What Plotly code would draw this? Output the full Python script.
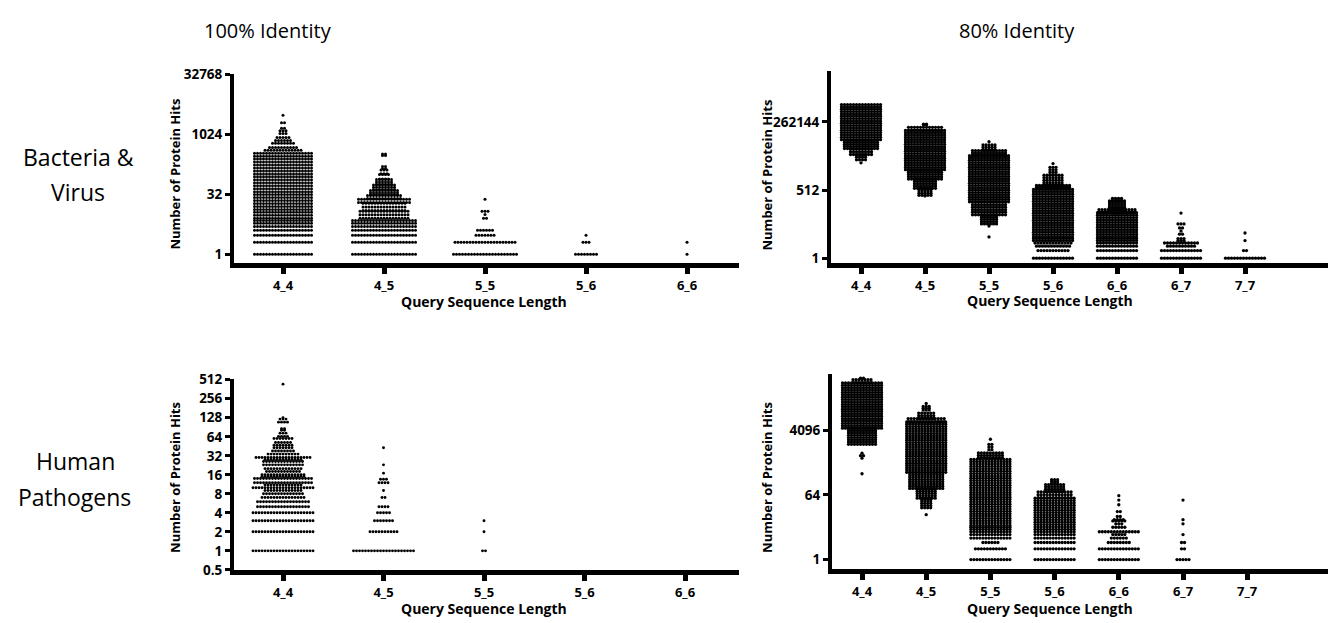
import numpy as np
import plotly.graph_objects as go

# target screenshot size and the default 8px page margin of the html body
SCREEN_W, SCREEN_H = 1336, 623
OFF = 8
W, H = SCREEN_W - OFF, SCREEN_H - OFF

# ---------------- data ----------------
categories_100 = ["4_4", "4_5", "5_5", "5_6", "6_6"]
categories_80 = ["4_4", "4_5", "5_5", "5_6", "6_6", "6_7", "7_7"]

# Each entry: [lowest hits, highest hits, dots per row]; low == high -> a single row
bacteria_100 = {
    "4_4": [[1, 1, 20], [2, 2, 20], [3, 3, 20], [4, 4, 20], [5, 5, 20], [6, 6, 20], [7, 7, 20],
            [8, 345, 20], [410, 410, 13], [480, 480, 10], [610, 610, 8], [720, 720, 6],
            [850, 850, 5], [1070, 1070, 3], [1260, 1260, 3], [1460, 1460, 2], [2000, 2000, 2],
            [3100, 3100, 1]],
    "4_5": [[1, 1, 22], [2, 2, 22], [3, 3, 22], [4, 4, 22], [5, 5, 22], [6, 6, 22], [7, 7, 22],
            [8, 12, 17], [12.5, 19, 15], [20, 24, 18], [25, 30, 12], [31, 40, 10], [42, 55, 8],
            [57, 75, 6], [78, 100, 4], [105, 130, 3], [140, 160, 2], [300, 300, 2], [330, 330, 2]],
    "5_5": [[1, 1, 22], [2, 2, 21], [3, 3, 7], [4, 4, 6], [8, 8, 2], [10, 10, 1], [12, 12, 3],
            [24, 24, 1]],
    "5_6": [[1, 1, 8], [2, 2, 3], [3, 3, 1]],
    "6_6": [[1, 1, 1], [2, 2, 1]],
}

bacteria_80 = {
    "4_4": [[6200, 6200, 1], [8200, 13000, 4], [13300, 22000, 8], [23000, 50000, 12],
            [52000, 1290000, 14]],
    "4_5": [[300, 300, 1], [315, 580, 5], [600, 1380, 8], [1400, 3250, 12], [3300, 120000, 14],
            [122000, 160000, 12], [200000, 213000, 2]],
    "5_5": [[7, 7, 1], [19, 19, 1], [23, 52, 6], [53, 170, 12], [175, 12000, 14],
            [12500, 19000, 12], [20000, 32000, 5], [43000, 43000, 1]],
    "5_6": [[1, 1, 14], [2, 2, 11], [3, 3, 12], [4, 4, 13], [5, 5, 14], [6, 6, 14],
            [7, 540, 14], [560, 780, 12], [800, 2000, 7], [2100, 4100, 3], [5800, 5800, 1]],
    "6_6": [[1, 1, 14], [2, 2, 14], [3, 3, 14], [4, 4, 14], [5, 5, 14], [6, 6, 14],
            [7, 64, 14], [66, 85, 13], [88, 190, 6], [200, 240, 4]],
    "6_7": [[1, 1, 14], [2, 2, 14], [3, 3, 10], [4, 4, 12], [5, 5, 3], [6, 6, 3], [9, 9, 2],
            [12, 12, 1], [16, 16, 2], [23, 23, 3], [62, 62, 1]],
    "7_7": [[1, 1, 14], [2, 2, 2], [5, 5, 1], [10, 10, 1]],
}

pathogens_100 = {
    "4_4": [[1, 1, 21], [2, 2, 21], [3, 3, 21], [4, 4, 21], [5, 5, 18], [6, 6, 18], [7, 7, 15],
            [8, 8, 14], [9, 9, 13], [10, 10, 21], [11, 11, 13], [12, 12, 20], [14, 14, 20],
            [15, 15, 15], [16, 16, 15], [18, 18, 12], [20, 20, 13], [23, 23, 14], [26, 26, 14],
            [28, 28, 13], [30, 30, 19], [34, 34, 11], [38, 38, 8], [43, 43, 7], [47, 47, 7],
            [52, 52, 6], [60, 60, 7], [65, 65, 4], [73, 73, 3], [81, 81, 2], [86, 86, 2],
            [109, 109, 4], [122, 122, 3], [128, 128, 1], [436, 436, 1]],
    "4_5": [[1, 1, 21], [2, 2, 10], [3, 3, 7], [4, 4, 5], [5, 5, 4], [7, 7, 2], [9, 9, 1],
            [12, 12, 4], [13.6, 13.6, 3], [17, 17, 1], [23, 23, 1], [43, 43, 1]],
    "5_5": [[1, 1, 2], [2, 2, 1], [3, 3, 1]],
    "5_6": [],
    "6_6": [],
}

pathogens_80 = {
    "4_4": [[250, 250, 1], [680, 680, 1], [800, 800, 2], [940, 940, 1], [1660, 4600, 10],
            [4700, 86000, 14], [88000, 106000, 7], [118000, 118000, 2]],
    "4_5": [[18, 18, 1], [28, 50, 4], [52, 95, 7], [97, 270, 12], [275, 7000, 14],
            [7100, 8700, 13], [8800, 12400, 6], [15000, 19000, 3], [23000, 23000, 1]],
    "5_5": [[1, 1, 14], [2, 2, 11], [3, 3, 6], [4, 4, 14], [5, 5, 14], [6, 6, 14], [7, 7, 14],
            [8, 8, 14], [9, 630, 14], [700, 950, 9], [1180, 1660, 2], [2300, 2300, 1]],
    "5_6": [[1, 1, 14], [2, 2, 14], [3, 3, 14], [4, 4, 14], [5, 5, 14], [6, 6, 14],
            [7, 52, 14], [54, 78, 12], [80, 125, 7], [130, 170, 3]],
    "6_6": [[1, 1, 14], [2, 2, 14], [3, 3, 8], [4, 4, 6], [5, 5, 5], [6, 6, 14], [8, 8, 5],
            [10, 10, 3], [12, 12, 5], [13, 13, 4], [16, 16, 2], [22, 22, 2], [34, 34, 1],
            [46, 46, 1], [61, 61, 1]],
    "6_7": [[1, 1, 5], [2, 2, 2], [3, 3, 2], [5, 5, 1], [10, 10, 1], [13, 13, 1], [46, 46, 1]],
    "7_7": [],
}

ticks_bacteria_100 = [1, 32, 1024, 32768]
ticks_bacteria_80 = [1, 512, 262144]
ticks_pathogens_100 = [0.5, 1, 2, 4, 8, 16, 32, 64, 128, 256, 512]
ticks_pathogens_80 = [1, 64, 4096]

# ---------------- layout geometry (screen pixels) ----------------
panels = [
    dict(cats=categories_100, data=bacteria_100, ticks=ticks_bacteria_100,
         box=(234, 739, 66.5, 261), one_px=252.0, ppd=12.33, cat0=283, step=101.0,
         row_px=3.0, dot=3.0),
    dict(cats=categories_80, data=bacteria_80, ticks=ticks_bacteria_80,
         box=(831, 1336, 64, 261), one_px=256.0, ppd=7.78, cat0=861, step=64.0,
         row_px=2.4, dot=3.3),
    dict(cats=categories_100, data=pathogens_100, ticks=ticks_pathogens_100,
         box=(234, 739, 380, 577), one_px=557.0, ppd=19.55, cat0=283, step=100.5,
         row_px=3.0, dot=2.9),
    dict(cats=categories_80, data=pathogens_80, ticks=ticks_pathogens_80,
         box=(832, 1336, 375, 576), one_px=566.0, ppd=11.08, cat0=862, step=64.2,
         row_px=2.4, dot=3.3),
]

DOT_PX = 3.0
LOG2 = np.log10(2)
FONT = "Open Sans"


def fx(px):
    return (px - OFF) / W


def fy(py):
    return 1 - (py - OFF) / H


def swarm(data, cats, dx, log_step):
    xs, ys = [], []
    for ci, cat in enumerate(cats):
        for lo, hi, n in data.get(cat, []):
            if lo == hi:
                levels = [lo]
            else:
                span = np.log10(hi) - np.log10(lo)
                k = max(1, int(round(span / log_step)))
                levels = list(10 ** np.linspace(np.log10(lo), np.log10(hi), k + 1))
            for v in levels:
                for i in range(n):
                    xs.append(ci + (i - (n - 1) / 2) * dx)
                    ys.append(v)
    return xs, ys


fig = go.Figure()
layout = {}
for idx, p in enumerate(panels, start=1):
    x0, x1, ytop, ybot = p["box"]
    xr = [(x0 - p["cat0"]) / p["step"], (x1 - p["cat0"]) / p["step"]]
    yr = [-(ybot - p["one_px"]) / p["ppd"] * LOG2, (p["one_px"] - ytop) / p["ppd"] * LOG2]
    dx = DOT_PX / p["step"]
    log_step = p["row_px"] / p["ppd"] * LOG2
    xs, ys = swarm(p["data"], p["cats"], dx, log_step)
    sfx = "" if idx == 1 else str(idx)
    fig.add_trace(go.Scatter(
        x=xs, y=ys, mode="markers", xaxis="x" + sfx, yaxis="y" + sfx,
        marker=dict(color="black", size=p["dot"], line=dict(width=0)),
        hoverinfo="skip", showlegend=False, cliponaxis=False))
    layout["xaxis" + sfx] = dict(
        domain=[fx(x0), min(1.0, fx(x1))], range=xr, anchor="y" + sfx,
        tickvals=list(range(len(p["cats"]))), ticktext=p["cats"],
        showline=True, linewidth=5, linecolor="black",
        ticks="outside", ticklen=6, tickwidth=5, tickcolor="black",
        showgrid=False, zeroline=False,
        tickfont=dict(family=FONT, size=13, color="black", weight="bold"))
    layout["yaxis" + sfx] = dict(
        domain=[fy(ybot), fy(ytop)], type="log", range=yr, anchor="x" + sfx,
        tickvals=p["ticks"], ticktext=[str(t) for t in p["ticks"]],
        showline=True, linewidth=4, linecolor="black",
        ticks="outside", ticklen=5, tickwidth=3, tickcolor="black",
        showgrid=False, zeroline=False,
        tickfont=dict(family=FONT, size=13.5, color="black", weight="bold"))

ann = []


def text(s, x, y, size, bold=False, angle=0):
    ann.append(dict(text=s, x=fx(x), y=fy(y), xref="paper", yref="paper",
                    showarrow=False, xanchor="center", yanchor="middle", textangle=angle,
                    font=dict(family=FONT, size=size, color="black",
                              weight="bold" if bold else "normal")))


text("100% Identity", 268, 22, 20)
text("80% Identity", 1017, 22, 20)
text("Bacteria &", 78, 152, 23)
text("Virus", 78, 188, 23)
text("Human", 75, 465, 23)
text("Pathogens", 74, 502, 23)
for (x, y) in [(175, 170), (767, 171), (175, 482), (767, 482)]:
    text("Number of Protein Hits", x, y, 13, bold=True, angle=-90)
for (x, y) in [(484, 301), (1050, 300), (484, 616), (1050, 616)]:
    text("Query Sequence Length", x, y, 14, bold=True)

fig.update_layout(width=W, height=H, margin=dict(l=0, r=0, t=0, b=0),
                  paper_bgcolor="white", plot_bgcolor="white",
                  annotations=ann, **layout)

fig.write_html("out.html")
